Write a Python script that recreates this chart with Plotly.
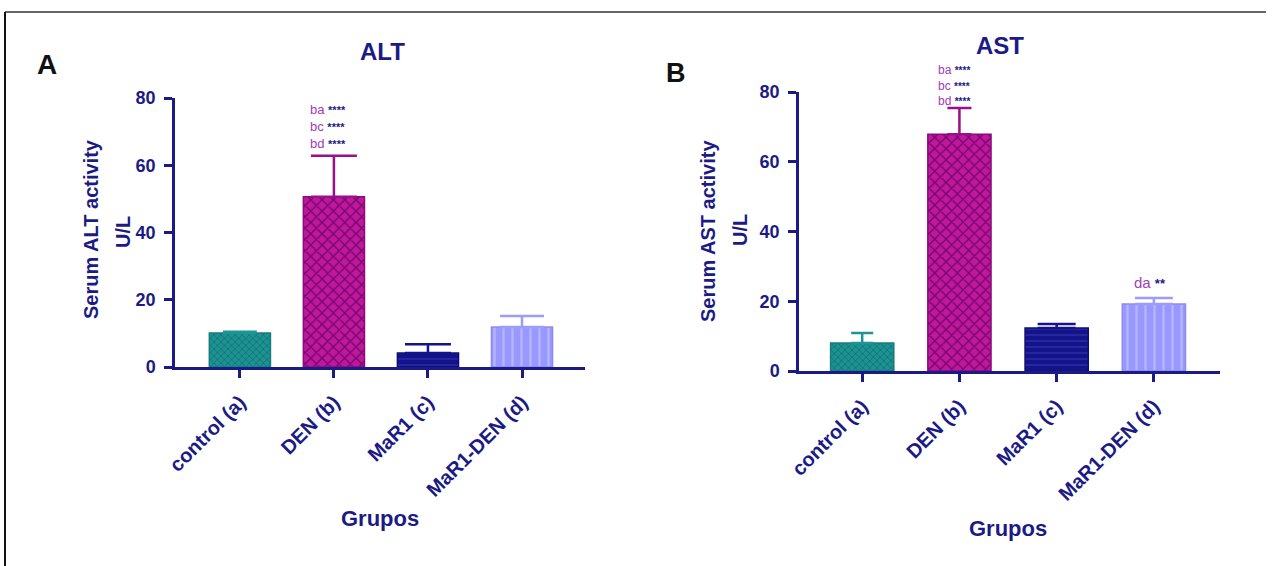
import plotly.graph_objects as go

# ---------------- data ----------------
groups = ["control (a)", "DEN (b)", "MaR1 (c)", "MaR1-DEN (d)"]
alt_mean = [10.1, 50.6, 4.2, 11.9]
alt_sem = [0.4, 12.2, 2.6, 3.3]
ast_mean = [8.0, 67.9, 12.3, 19.2]
ast_sem = [2.9, 7.5, 1.2, 1.7]
y_ticks = [0, 20, 40, 60, 80]
y_max = 80

alt_sig_pairs = ["ba", "bc", "bd"]
alt_sig_stars = ["****", "****", "****"]
alt_sig_top = 79.5          # y value of the top of the label block
ast_sig_pairs = ["ba", "bc", "bd"]
ast_sig_stars = ["****", "****", "****"]
ast_sig_top = 89.0
ast_d_pair, ast_d_stars, ast_d_y = "da", "**", 25.2

# ---------------- styles ----------------
NAVY = "#1b1b86"
PURPLE = "#a03cb8"
FONT = "Liberation Sans, Arial, sans-serif"
W, H = 1273, 566

styles = [
    dict(bg="#1d9292", fg="#127272", shape="x", size=5, sol=0.3, line="#177c7e", err="#1f9494"),
    dict(bg="#c2169f", fg="#6c0a66", shape="x", size=8, sol=0.3, line="#8a0c7c", err="#9a1088"),
    dict(bg="#13138a", fg="#2828a4", shape="-", size=6, sol=0.3, line="#0e0e70", err="#13138a"),
    dict(bg="#9898ff", fg="#b6b6ff", shape="|", size=9, sol=0.25, line="#8c8cf0", err="#9c9cff"),
]
alt_cap = [17, 23, 23, 22]
ast_cap = [11, 12, 19, 19]

fig = go.Figure()

def add_panel(means, sems, caps, xa, ya):
    for i, g in enumerate(groups):
        s = styles[i]
        fig.add_trace(go.Bar(
            x=[g], y=[means[i]], width=0.65,
            xaxis=xa, yaxis=ya,
            marker=dict(
                color=s["bg"],
                line=dict(color=s["line"], width=1.5),
                pattern=dict(shape=s["shape"], bgcolor=s["bg"], fgcolor=s["fg"],
                             size=s["size"], solidity=s["sol"], fillmode="replace"),
            ),
            error_y=dict(type="data", symmetric=False, array=[sems[i]], arrayminus=[0],
                         color=s["err"], thickness=2.5, width=caps[i]),
            showlegend=False, hoverinfo="skip",
        ))

add_panel(alt_mean, alt_sem, alt_cap, "x", "y")
add_panel(ast_mean, ast_sem, ast_cap, "x2", "y2")

axis_common_x = dict(
    type="category", categoryorder="array", categoryarray=groups,
    showline=True, linecolor=NAVY, linewidth=2.5,
    ticks="outside", ticklen=8, tickwidth=2.5, tickcolor=NAVY,
    tickangle=-45, showgrid=False, zeroline=False, automargin=False,
    ticklabelstandoff=5,
    tickfont=dict(family=FONT, size=20, color=NAVY, weight="bold"),
)
axis_common_y = dict(
    range=[0, y_max], tickvals=y_ticks,
    showline=True, linecolor=NAVY, linewidth=2.5,
    ticks="outside", ticklen=8, tickwidth=2.5, tickcolor=NAVY,
    showgrid=False, zeroline=False, ticklabelstandoff=5, automargin=False,
    tickfont=dict(family=FONT, size=18, color=NAVY, weight="bold"),
)

fig.update_layout(
    width=W, height=H, autosize=False,
    margin=dict(l=0, r=0, t=0, b=0, pad=0, autoexpand=False),
    paper_bgcolor="white", plot_bgcolor="white",
    barmode="overlay", showlegend=False,
    xaxis=dict(axis_common_x, domain=[175 / W, 585 / W], range=[-0.69, 3.67], anchor="y"),
    yaxis=dict(axis_common_y, domain=[1 - 367 / H, 1 - 98 / H], anchor="x"),
    xaxis2=dict(axis_common_x, domain=[799 / W, 1220 / W], range=[-0.65, 3.68], anchor="y2"),
    yaxis2=dict(axis_common_y, domain=[1 - 371 / H, 1 - 92 / H], anchor="x2"),
)

ann = []

def paper_text(text, x, y, size, color=NAVY, angle=0, bold=True):
    ann.append(dict(
        text=text, x=x / W, y=1 - y / H, xref="paper", yref="paper",
        showarrow=False, xanchor="center", yanchor="middle", textangle=angle,
        font=dict(family=FONT, size=size, color=color, weight="bold" if bold else "normal"),
    ))

# panel letters and titles
paper_text("A", 47, 64, 28, color="#111111")
paper_text("B", 676, 73, 27, color="#111111")
paper_text("ALT", 382, 52, 24)
paper_text("AST", 1000, 45, 24)
# y titles
paper_text("Serum ALT activity", 91, 229, 20, angle=-90)
paper_text("U/L", 123, 232, 20, angle=-90)
paper_text("Serum AST activity", 708, 231, 20, angle=-90)
paper_text("U/L", 740, 230, 20, angle=-90)
# x titles
paper_text("Grupos", 380, 518, 22)
paper_text("Grupos", 1008, 528, 22)

def sig_block(pairs, stars, g, ytop, xa, ya, xshift, size):
    lines = [f"<span style='color:{PURPLE}'>{p}</span> "
             f"<span style='color:{NAVY}; font-size:{size-2}px'><b>{s}</b></span>"
             for p, s in zip(pairs, stars)]
    ann.append(dict(
        text="<br>".join(lines),
        x=g, y=ytop / y_max, xref=xa, yref=f"{ya} domain", showarrow=False,
        xanchor="center", yanchor="top", xshift=xshift, align="left",
        font=dict(family=FONT, size=size, color=PURPLE),
    ))

sig_block(alt_sig_pairs, alt_sig_stars, "DEN (b)", alt_sig_top, "x", "y", -6, 13)
sig_block(ast_sig_pairs, ast_sig_stars, "DEN (b)", ast_sig_top, "x2", "y2", -5, 12)
sig_block([ast_d_pair], [ast_d_stars], "MaR1-DEN (d)", ast_d_y + 3.2, "x2", "y2", -4, 15)

fig.update_layout(annotations=ann)

# frame lines (top and left)
fig.add_shape(type="line", xref="paper", yref="paper",
              x0=5 / W, x1=1266 / W, y0=1 - 12 / H, y1=1 - 12 / H,
              line=dict(color="#333333", width=1.5))
fig.add_shape(type="line", xref="paper", yref="paper",
              x0=5 / W, x1=5 / W, y0=0, y1=1 - 12 / H,
              line=dict(color="#111111", width=2))

fig.write_html(
    "out.html",
    config={"displayModeBar": False},
    post_script="document.body.style.margin='0';document.body.style.padding='0';"
                "document.body.style.overflow='hidden';",
)
